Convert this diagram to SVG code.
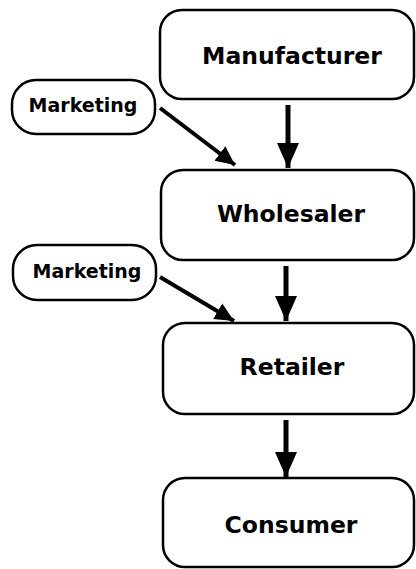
<svg xmlns="http://www.w3.org/2000/svg" width="416" height="569" viewBox="0 0 416 569">
<style>
.box{fill:#fff;stroke:#000;stroke-width:2.5}
.lbl{font-family:"DejaVu Sans",sans-serif;font-weight:bold;fill:#000;text-anchor:middle}
.big{font-size:23.5px}
.sm{font-size:19px}
.sh{stroke:#000;fill:none}
</style>
<defs>
<marker id="ah" markerUnits="userSpaceOnUse" markerWidth="26" markerHeight="24" viewBox="0 0 26 24" refX="25" refY="12" orient="auto">
<path d="M0,1 L25,12 L0,23 Z" fill="#000"/>
</marker>
<marker id="ah2" markerUnits="userSpaceOnUse" markerWidth="20" markerHeight="20" viewBox="0 0 20 20" refX="19" refY="10" orient="auto">
<path d="M0,1 L19,10 L0,19 Z" fill="#000"/>
</marker>
</defs>
<g id="connectors">
<line class="sh" x1="288" y1="105" x2="288" y2="168" stroke-width="5" marker-end="url(#ah)"/>
<line class="sh" x1="286" y1="266" x2="286" y2="321" stroke-width="5" marker-end="url(#ah)"/>
<line class="sh" x1="286" y1="420" x2="286" y2="477" stroke-width="5" marker-end="url(#ah)"/>
<line class="sh" x1="160" y1="108" x2="235" y2="165" stroke-width="4" marker-end="url(#ah2)"/>
<line class="sh" x1="160" y1="277" x2="234" y2="321" stroke-width="4" marker-end="url(#ah2)"/>
</g>
<g id="manufacturer">
<rect class="box" x="160" y="10" width="254" height="89" rx="22"/>
<text class="lbl big" x="292" y="64">Manufacturer</text>
</g>
<g id="wholesaler">
<rect class="box" x="161" y="170" width="253" height="90" rx="22"/>
<text class="lbl big" x="291" y="222">Wholesaler</text>
</g>
<g id="retailer">
<rect class="box" x="163" y="323" width="251" height="91" rx="22"/>
<text class="lbl big" x="292" y="375">Retailer</text>
</g>
<g id="consumer">
<rect class="box" x="163" y="478" width="251" height="89" rx="22"/>
<text class="lbl big" x="291" y="533">Consumer</text>
</g>
<g id="marketing1">
<rect class="box" x="12" y="80" width="143" height="54" rx="24"/>
<text class="lbl sm" x="83" y="112">Marketing</text>
</g>
<g id="marketing2">
<rect class="box" x="13" y="245" width="143" height="55" rx="24"/>
<text class="lbl sm" x="87" y="278">Marketing</text>
</g>
</svg>
